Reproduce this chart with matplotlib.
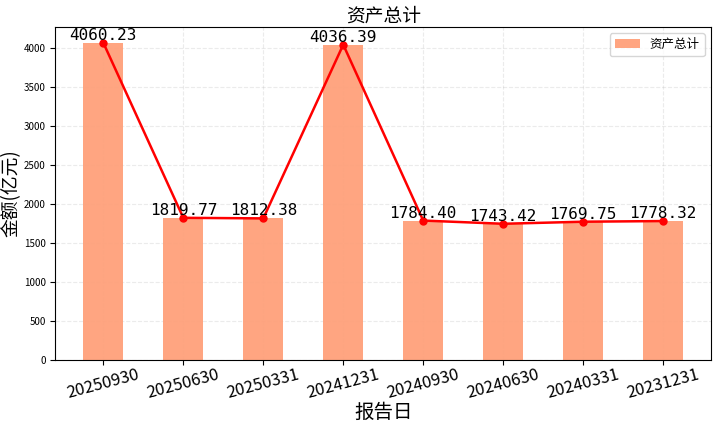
import matplotlib
matplotlib.use("Agg")
import matplotlib.pyplot as plt

plt.rcParams["font.family"] = ["Noto Sans CJK SC", "DejaVu Sans"]
plt.rcParams["axes.unicode_minus"] = False

dates = ["20250930", "20250630", "20250331", "20241231",
         "20240930", "20240630", "20240331", "20231231"]
total_assets = [4060.23, 1819.77, 1812.38, 4036.39,
                1784.40, 1743.42, 1769.75, 1778.32]

fig, ax = plt.subplots(figsize=(7.19, 4.28), dpi=100)
x = list(range(len(dates)))
ax.bar(x, total_assets, width=0.5, color="#FFA07A", alpha=0.95, label="资产总计", zorder=2)
ax.plot(x, total_assets, color="red", marker="o", markersize=5, linewidth=1.8, zorder=3)
for xi, v in zip(x, total_assets):
    ax.text(xi, v, f"{v:.2f}", ha="center", va="bottom", fontsize=11.5,
            family="DejaVu Sans Mono", zorder=4)

ax.set_xlim(-0.6, 7.6)
ax.set_ylim(0, max(total_assets) * 1.05)
ax.set_xticks(x)
ax.set_xticklabels(dates, rotation=15, fontsize=12)
ax.tick_params(axis="x", pad=1)
ax.tick_params(axis="y", labelsize=7)
ax.set_title("资产总计", fontsize=13.5, pad=4)
ax.set_xlabel("报告日", fontsize=14, labelpad=0)
ax.set_ylabel("金额(亿元)", fontsize=13.5)
ax.yaxis.set_label_coords(-0.052, 0.5)
ax.grid(True, linestyle="--", alpha=0.25, zorder=0)
ax.legend(loc="upper right", fontsize=9)

fig.subplots_adjust(left=0.077, right=0.989, top=0.937, bottom=0.159)
fig.savefig("out.png", dpi=100)
